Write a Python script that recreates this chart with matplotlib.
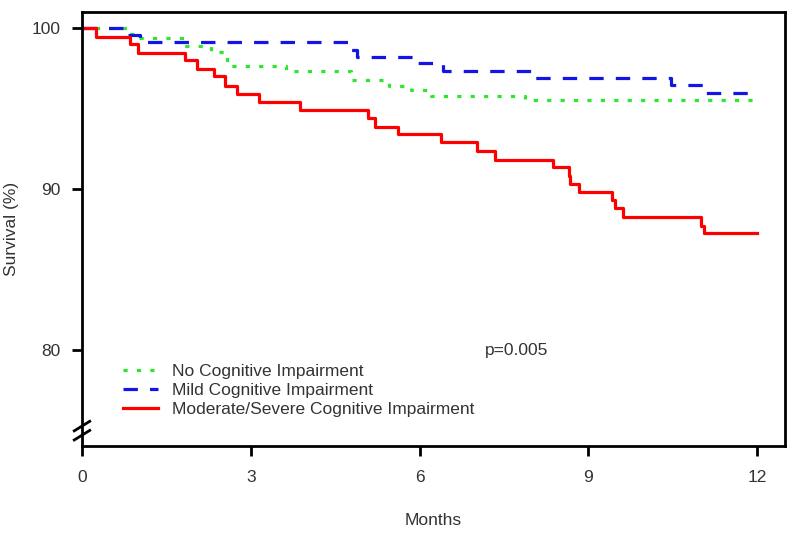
import matplotlib
matplotlib.use("Agg")
from matplotlib import pyplot as plt

plt.rcParams['font.family'] = ['Liberation Sans', 'DejaVu Sans']

# Kaplan-Meier steps (months, survival %)
t_none = [0, 0.82, 0.95, 1.82, 2.3, 2.57, 2.65, 3.63, 4.79, 5.45, 5.85, 6.21, 7.87, 12]
s_none = [100, 99.63, 99.36, 98.84, 98.5, 97.9, 97.6, 97.29, 96.73, 96.4, 96.15, 95.78, 95.53, 95.53]

t_mild = [0, 0.79, 1.03, 4.73, 4.88, 5.88, 6.41, 8.01, 10.47, 11.04, 12]
s_mild = [100, 99.52, 99.09, 98.63, 98.18, 97.8, 97.29, 96.87, 96.42, 95.94, 95.94]

t_sev = [0, 0.25, 0.85, 1.0, 1.83, 2.04, 2.35, 2.54, 2.75, 3.15, 3.88, 5.08, 5.2, 5.61,
         6.38, 7.03, 7.34, 8.38, 8.65, 8.68, 8.83, 9.42, 9.47, 9.62, 11.0, 11.05, 12.0]
s_sev = [100, 99.42, 99.0, 98.43, 97.97, 97.43, 96.98, 96.4, 95.9, 95.42, 94.9, 94.39, 93.87, 93.42,
         92.88, 92.32, 91.8, 91.35, 90.8, 90.31, 89.83, 89.3, 88.8, 88.28, 87.7, 87.29, 87.29]

labels = ["No Cognitive Impairment", "Mild Cognitive Impairment",
          "Moderate/Severe Cognitive Impairment"]
xticks = [0, 3, 6, 9, 12]
yticks = [80, 90, 100]

txt = '#333333'
fig = plt.figure(figsize=(8, 5.4), dpi=100)
ax = fig.add_axes([0.1025, 0.174, 0.879, 0.804])

ax.step(t_none, s_none, where='post', color='#2ee62e', lw=2.3, dashes=(1.3, 2.9), label=labels[0])
ax.step(t_mild, s_mild, where='post', color='#1414e6', lw=2.3, dashes=(4.5, 3.8), label=labels[1])
ax.step(t_sev, s_sev, where='post', color='#ff0000', lw=2.3, label=labels[2])

ax.set_xlim(0, 12.5)
ax.set_ylim(74.05, 100.98)
ax.set_xticks(xticks)
ax.set_yticks(yticks)
for sp in ax.spines.values():
    sp.set_linewidth(2)
ax.tick_params(direction='out', length=7.2, width=2, labelsize=12.5, labelcolor=txt)
ax.tick_params(axis='x', pad=10)
ax.tick_params(axis='y', pad=8.5)

ax.set_xlabel("Months", fontsize=12.5, color=txt)
ax.xaxis.set_label_coords(0.5, -0.155)
ax.set_ylabel("Survival (%)", fontsize=12.5, color=txt)
ax.yaxis.set_label_coords(-0.089, 0.5)

ax.text(7.73, 80, "p=0.005", fontsize=12.5, color=txt, ha='center', va='center')

leg = ax.legend(loc='upper left', bbox_to_anchor=(0.058, 0.19), frameon=False, fontsize=12.5,
                borderpad=0, borderaxespad=0, handlelength=2.0, handletextpad=0.85,
                labelspacing=0.22)
for t in leg.get_texts():
    t.set_color(txt)

# axis break on the y axis
ax.plot([-0.0015, 0.0015], [0.025, 0.046], transform=ax.transAxes, color='white',
        lw=6, clip_on=False, solid_capstyle='butt')
for yb in (0.025, 0.046):
    ax.plot([-0.011, 0.011], [yb - 0.011, yb + 0.011], transform=ax.transAxes,
            color='black', lw=2, clip_on=False)

plt.savefig("out.png", dpi=100)
